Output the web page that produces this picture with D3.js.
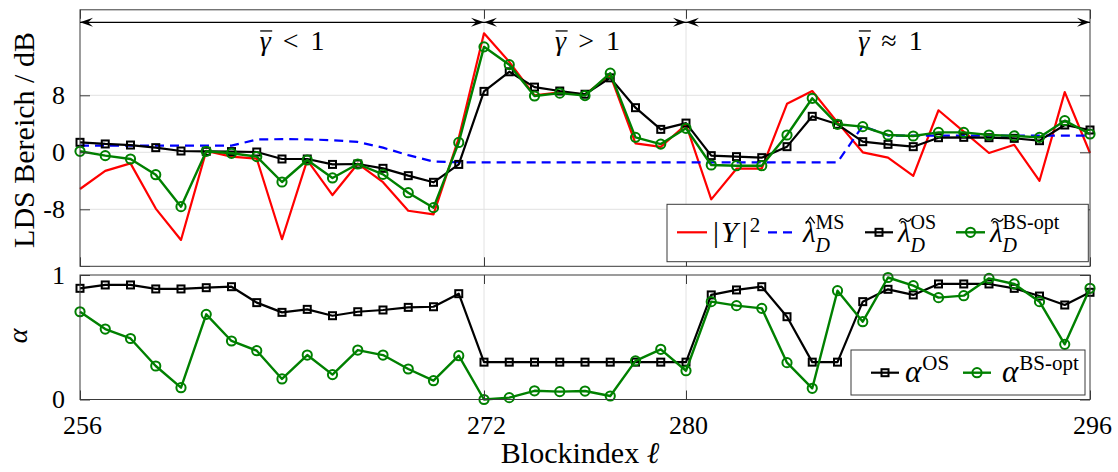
<!DOCTYPE html>
<html>
<head>
<meta charset="utf-8">
<script src="https://cdn.jsdelivr.net/npm/d3@7"></script>
<style>
  body { margin: 0; background: #fff; }
  svg { display: block; }
  text { font-family: "Liberation Serif", "Times New Roman", serif; fill: #000; }
</style>
</head>
<body>
<svg id="chart" width="1118" height="472"></svg>
<script>
// ---- data -------------------------------------------------------------
const blocks = [256, 257, 258, 259, 260, 261, 262, 263, 264, 265, 266, 267, 268, 269,
  270, 271, 272, 273, 274, 275, 276, 277, 278, 279, 280, 281, 282, 283, 284, 285,
  286, 287, 288, 289, 290, 291, 292, 293, 294, 295, 296];

// periodogram |Y|^2 in dB
const powerY = [-5.15, -2.6, -1.55, -7.9, -12.3, 0.2, -0.6, -0.9, -12.2, -1.1,
  -6.0, -1.6, -4.2, -8.2, -8.7, 2.0, 16.7, 12.7, 8.0, 8.4,
  8.1, 10.85, 1.26, 0.75, 3.9, -6.6, -2.3, -2.3, 6.8, 8.6,
  4.2, 0.0, -0.75, -3.3, 5.9, 2.9, -0.1, 1.05, -4.0, 8.45, -0.1];

// minimum statistics noise estimate
const lambdaMS = [0.93, 0.93, 0.93, 0.93, 0.93, 0.93, 0.93, 1.8, 1.85, 1.82,
  1.7, 1.45, 0.65, -0.4, -1.3, -1.4, -1.4, -1.4, -1.4, -1.4,
  -1.4, -1.4, -1.4, -1.4, -1.4, -1.4, -1.4, -1.4, -1.4, -1.4,
  -1.4, 3.7, 2.35, 2.35, 2.35, 2.35, 2.35, 2.35, 2.35, 2.35, 2.35];

// optimal smoothing estimate
const lambdaOS = [1.4, 1.17, 1.02, 0.65, 0.18, 0.14, 0.1, 0.04, -0.94, -0.94,
  -1.7, -1.64, -2.25, -3.28, -4.21, -1.7, 8.55, 11.3, 9.15, 8.6,
  8.15, 10.45, 6.26, 3.22, 4.1, -0.47, -0.61, -0.75, 0.79, 5.05,
  3.93, 1.49, 1.12, 0.79, 2.05, 2.1, 2.05, 1.96, 1.63, 3.83, 3.13];

// bias-optimised smoothing estimate
const lambdaBS = [0.14, -0.47, -0.94, -3.14, -7.63, 0.14, -0.14, -0.61, -4.17, -1.08,
  -3.6, -1.64, -3.1, -5.67, -7.77, 1.38, 14.8, 12.3, 7.9, 8.3,
  7.95, 11.1, 2.1, 1.15, 3.37, -1.78, -1.88, -1.88, 2.43, 7.58,
  3.93, 3.6, 2.43, 2.29, 2.8, 2.8, 2.43, 2.3, 2.1, 4.44, 2.57];

// smoothing factors
const alphaOS = [0.893, 0.92, 0.92, 0.888, 0.888, 0.898, 0.906, 0.778, 0.70, 0.724,
  0.673, 0.705, 0.719, 0.74, 0.745, 0.85, 0.30, 0.30, 0.30, 0.30,
  0.30, 0.30, 0.30, 0.30, 0.30, 0.84, 0.88, 0.906, 0.665, 0.30,
  0.30, 0.786, 0.885, 0.84, 0.928, 0.928, 0.928, 0.893, 0.831, 0.759, 0.861];

const alphaBS = [0.705, 0.566, 0.49, 0.269, 0.095, 0.684, 0.47, 0.392, 0.165, 0.357,
  0.2, 0.397, 0.357, 0.245, 0.151, 0.352, 0.0, 0.015, 0.07, 0.063,
  0.068, 0.028, 0.31, 0.403, 0.231, 0.786, 0.754, 0.732, 0.296, 0.09,
  0.874, 0.625, 0.98, 0.914, 0.818, 0.834, 0.973, 0.928, 0.786, 0.443, 0.893];

const xTicks = [256, 272, 280, 296];
const xTickLabels = ["256", "272", "280", "296"];
const yTicksTop = [-16, -8, 0, 8];
const yTickLabelsTop = ["", "-8", "0", "8"];   // the -16 label sits under the lower axes
const yTicksBottom = [0, 1];
const yTickLabelsBottom = ["0", "1"];

// SNR regions marked above the curves
const regionStart = [256, 272, 280];
const regionEnd = [272, 280, 296];
const regionRelation = ["<", ">", "\u2248"];
const regionLabelAt = [264.4, 276.1, 288.1];

// ---- layout -----------------------------------------------------------
const svg = d3.select("#chart");
const W = 1118, H = 472;
const L = 80, R = 1090;
const C = { red: "#ff0000", blue: "#0000ff", black: "#000000", green: "#008000",
            grid: "#e2e2e2", axis: "#3a3a3a" };

const x = d3.scaleLinear().domain([256, 296]).range([L, R]);
const yT = d3.scaleLinear().domain([-16, 20]).range([266.3, 9.8]);
const yB = d3.scaleLinear().domain([0, 1]).range([399.5, 275]);

// ---- helpers ----------------------------------------------------------
function drawAccent(g, type, cx, base, size) {
  const acc = g.append("path").attr("fill", "none").attr("stroke", "#000")
    .attr("stroke-width", 1.3).attr("stroke-linejoin", "round");
  if (type === "bar") {
    const yy = base - 0.68 * size;
    acc.attr("d", `M${cx - 6},${yy}L${cx + 6},${yy}`);
  } else if (type === "hat") {
    acc.attr("d", `M${cx - 4.5},${base - 0.64 * size}L${cx},${base - 0.86 * size}L${cx + 4.5},${base - 0.64 * size}`);
  } else if (type === "tilde") {
    const yc = base - 0.76 * size;
    acc.attr("d", `M${cx - 6},${yc + 1.5}C${cx - 4},${yc - 2.5} ${cx - 1.5},${yc - 1.5} ${cx},${yc}S${cx + 4},${yc + 2.5} ${cx + 6},${yc - 1.5}`);
  }
}

// lays out a formula as one text of placed tspans; sub- and superscript may share a start
function mathText(parent, x0, y0, parts, opts) {
  const g = parent.append("g");
  const txt = g.append("text");
  let cx = 0, lastStart = 0;
  parts.forEach(p => {
    const size = p.size || opts.size;
    const px = p.stack ? lastStart : cx + (p.gap || 0);
    const t = txt.append("tspan").attr("x", px).attr("y", p.dy || 0)
      .attr("font-size", size)
      .attr("font-style", p.italic ? "italic" : "normal")
      .text(p.t);
    const w = t.node().getComputedTextLength();
    if (!p.stack) lastStart = px;
    cx = Math.max(cx, px + w);
    if (p.accent) drawAccent(g, p.accent, px + w / 2 + (p.skew || 0), p.dy || 0, size);
  });
  const shift = opts.anchor === "middle" ? -cx / 2 : 0;
  g.attr("transform", `translate(${x0 + shift},${y0})`);
  return g;
}

function styleAxis(g) {
  g.attr("font-family", null);
  g.select(".domain").remove();
  g.selectAll(".tick line").attr("stroke", C.axis).attr("stroke-width", 1);
  g.selectAll(".tick text").attr("font-size", 26).attr("fill", "#000");
}

function squareMarkers(g, values, yScale) {
  g.selectAll(null).data(values).join("rect")
    .attr("x", (d, i) => x(blocks[i]) - 3.5)
    .attr("y", d => yScale(d) - 3.5)
    .attr("width", 7).attr("height", 7)
    .attr("fill", "none").attr("stroke", C.black).attr("stroke-width", 2);
}
function circleMarkers(g, values, yScale) {
  g.selectAll(null).data(values).join("circle")
    .attr("cx", (d, i) => x(blocks[i]))
    .attr("cy", d => yScale(d))
    .attr("r", 4.6)
    .attr("fill", "none").attr("stroke", C.green).attr("stroke-width", 2);
}
function seriesPath(g, values, yScale, color, width, dash) {
  const line = d3.line().x((d, i) => x(blocks[i])).y(d => yScale(d));
  const p = g.append("path").datum(values).attr("d", line)
    .attr("fill", "none").attr("stroke", color).attr("stroke-width", width)
    .attr("stroke-linejoin", "round");
  if (dash) p.attr("stroke-dasharray", dash);
  return p;
}

function panelFrame(g, yScale, yTicks) {
  const [y0, y1] = yScale.range(); // bottom, top
  g.append("rect").attr("x", L).attr("y", y1).attr("width", R - L).attr("height", y0 - y1)
    .attr("fill", "#fff");
  const dom = yScale.domain();
  g.selectAll(null).data(yTicks.filter(v => v > dom[0] && v < dom[1])).join("line")
    .attr("x1", L).attr("x2", R).attr("y1", d => yScale(d)).attr("y2", d => yScale(d))
    .attr("stroke", C.grid).attr("stroke-width", 1);
  g.selectAll(null).data(xTicks.filter(v => v > 256 && v < 296)).join("line")
    .attr("x1", d => x(d)).attr("x2", d => x(d)).attr("y1", y1).attr("y2", y0)
    .attr("stroke", C.grid).attr("stroke-width", 1);
}

function panelAxes(g, yScale, yTicks, yLabels, showXLabels) {
  const [y0, y1] = yScale.range();
  g.append("g").attr("transform", `translate(${L},0)`)
    .call(d3.axisLeft(yScale).tickValues(yTicks).tickSizeInner(-10).tickSizeOuter(0)
      .tickPadding(15).tickFormat((d, i) => yLabels[i]))
    .call(styleAxis);
  g.append("g").attr("transform", `translate(${R},0)`)
    .call(d3.axisRight(yScale).tickValues(yTicks).tickSizeInner(-10).tickSizeOuter(0).tickFormat(""))
    .call(styleAxis);
  g.append("g").attr("transform", `translate(0,${y1})`)
    .call(d3.axisTop(x).tickValues(xTicks).tickSizeInner(-9).tickSizeOuter(0).tickFormat(""))
    .call(styleAxis);
  const bottom = g.append("g").attr("transform", `translate(0,${y0})`)
    .call(d3.axisBottom(x).tickValues(xTicks).tickSizeInner(-9).tickSizeOuter(0)
      .tickPadding(16).tickFormat((d, i) => showXLabels ? xTickLabels[i] : ""))
    .call(styleAxis);
  bottom.selectAll(".tick text").attr("dx", 2);
  g.append("rect").attr("x", L).attr("y", y1).attr("width", R - L).attr("height", y0 - y1)
    .attr("fill", "none").attr("stroke", C.axis).attr("stroke-width", 1);
}

// ---- upper panel: noise PSD estimates ------------------------------
const gTop = svg.append("g");
panelFrame(gTop, yT, yTicksTop);
const gTopData = gTop.append("g");
seriesPath(gTopData, powerY, yT, C.red, 2.2);
seriesPath(gTopData, lambdaMS, yT, C.blue, 2.2, "9,6");
seriesPath(gTopData, lambdaOS, yT, C.black, 2.2);
squareMarkers(gTopData, lambdaOS, yT);
seriesPath(gTopData, lambdaBS, yT, C.green, 2.4);
circleMarkers(gTopData, lambdaBS, yT);
panelAxes(gTop, yT, yTicksTop, yTickLabelsTop, false);

// legend of the upper panel
const legT = gTop.append("g");
legT.append("rect").attr("x", 667).attr("y", 204.3).attr("width", 421.3).attr("height", 57.4)
  .attr("fill", "#fff").attr("stroke", C.axis).attr("stroke-width", 1);
const ly = 232.3, lb = 242;
legT.append("line").attr("x1", 677).attr("x2", 707).attr("y1", ly).attr("y2", ly)
  .attr("stroke", C.red).attr("stroke-width", 2.2);
mathText(legT, 713, lb, [
  { t: "|" }, { t: "Y", italic: true, gap: 2 }, { t: "|", gap: 4 },
  { t: "2", size: 21, dy: -10, gap: 2 }], { size: 30 });
legT.append("line").attr("x1", 768).attr("x2", 793).attr("y1", ly).attr("y2", ly)
  .attr("stroke", C.blue).attr("stroke-width", 2.2).attr("stroke-dasharray", "9,6");
mathText(legT, 803, lb, [
  { t: "\u03bb", italic: true, accent: "hat", skew: 1 },
  { t: "D", italic: true, size: 20, dy: 10 },
  { t: "MS", size: 20, dy: -13, stack: true }], { size: 29 });
legT.append("line").attr("x1", 865).attr("x2", 893).attr("y1", ly).attr("y2", ly)
  .attr("stroke", C.black).attr("stroke-width", 2.2);
legT.append("rect").attr("x", 879 - 3.5).attr("y", ly - 3.5).attr("width", 7).attr("height", 7)
  .attr("fill", "none").attr("stroke", C.black).attr("stroke-width", 2);
mathText(legT, 898, lb, [
  { t: "\u03bb", italic: true, accent: "tilde", skew: 1 },
  { t: "D", italic: true, size: 20, dy: 10 },
  { t: "OS", size: 20, dy: -13, stack: true }], { size: 29 });
legT.append("line").attr("x1", 956).attr("x2", 985).attr("y1", ly).attr("y2", ly)
  .attr("stroke", C.green).attr("stroke-width", 2.4);
legT.append("circle").attr("cx", 970.5).attr("cy", ly).attr("r", 4.6)
  .attr("fill", "none").attr("stroke", C.green).attr("stroke-width", 2);
mathText(legT, 990, lb, [
  { t: "\u03bb", italic: true, accent: "tilde", skew: 1 },
  { t: "D", italic: true, size: 20, dy: 10 },
  { t: "BS-opt", size: 20, dy: -13, stack: true }], { size: 29 });

// region arrows and labels
const arrowY = 22.3;
const gArrows = gTop.append("g");
function arrowHead(g, tip, dir) {
  g.append("path")
    .attr("d", `M${tip},${arrowY}L${tip - dir * 13},${arrowY - 4.5}L${tip - dir * 8},${arrowY}L${tip - dir * 13},${arrowY + 4.5}Z`)
    .attr("fill", "#000");
}
regionStart.forEach((s, i) => {
  const e = regionEnd[i];
  gArrows.append("line").attr("x1", x(s)).attr("x2", x(e)).attr("y1", arrowY).attr("y2", arrowY)
    .attr("stroke", "#000").attr("stroke-width", 1.2);
  arrowHead(gArrows, x(s), -1);
  arrowHead(gArrows, x(e), 1);
  mathText(gArrows, x(regionLabelAt[i]), 50, [
    { t: "\u03b3", italic: true, accent: "bar", skew: 1 },
    { t: regionRelation[i], gap: 12 },
    { t: "1", gap: 12 }], { size: 28, anchor: "middle" });
});

// y label of the upper panel
svg.append("text").attr("transform", `translate(34,140) rotate(-90)`)
  .attr("text-anchor", "middle").attr("font-size", 30).text("LDS Bereich / dB");

// ---- lower panel: smoothing factors ---------------------------------
// the lower axes area is opaque and hides what lies beneath it
svg.append("rect").attr("x", 0).attr("y", 267).attr("width", W).attr("height", H - 267).attr("fill", "#fff");
const gBot = svg.append("g");
panelFrame(gBot, yB, yTicksBottom);
const gBotData = gBot.append("g");
seriesPath(gBotData, alphaOS, yB, C.black, 2.2);
squareMarkers(gBotData, alphaOS, yB);
seriesPath(gBotData, alphaBS, yB, C.green, 2.4);
circleMarkers(gBotData, alphaBS, yB);
panelAxes(gBot, yB, yTicksBottom, yTickLabelsBottom, true);

// legend of the lower panel
const legB = gBot.append("g");
legB.append("rect").attr("x", 851).attr("y", 350).attr("width", 234).attr("height", 45)
  .attr("fill", "#fff").attr("stroke", C.axis).attr("stroke-width", 1);
const by = 372.7, bb = 382;
legB.append("line").attr("x1", 871).attr("x2", 899).attr("y1", by).attr("y2", by)
  .attr("stroke", C.black).attr("stroke-width", 2.2);
legB.append("rect").attr("x", 885 - 3.5).attr("y", by - 3.5).attr("width", 7).attr("height", 7)
  .attr("fill", "none").attr("stroke", C.black).attr("stroke-width", 2);
mathText(legB, 905, bb, [{ t: "\u03b1", italic: true }, { t: "OS", size: 21, dy: -12, gap: 1 }], { size: 31 });
legB.append("line").attr("x1", 963).attr("x2", 991).attr("y1", by).attr("y2", by)
  .attr("stroke", C.green).attr("stroke-width", 2.4);
legB.append("circle").attr("cx", 977).attr("cy", by).attr("r", 4.6)
  .attr("fill", "none").attr("stroke", C.green).attr("stroke-width", 2);
mathText(legB, 1002, bb, [{ t: "\u03b1", italic: true }, { t: "BS-opt", size: 21, dy: -12, gap: 1 }], { size: 31 });

// axis labels of the lower panel
svg.append("text").attr("transform", `translate(27,336) rotate(-90)`)
  .attr("text-anchor", "middle").attr("font-size", 28).attr("font-style", "italic").text("\u03b1");
const xl = svg.append("text").attr("x", 580).attr("y", 463).attr("text-anchor", "middle").attr("font-size", 30);
xl.append("tspan").text("Blockindex ");
xl.append("tspan").attr("font-style", "italic").text("\u2113");
</script>
</body>
</html>
